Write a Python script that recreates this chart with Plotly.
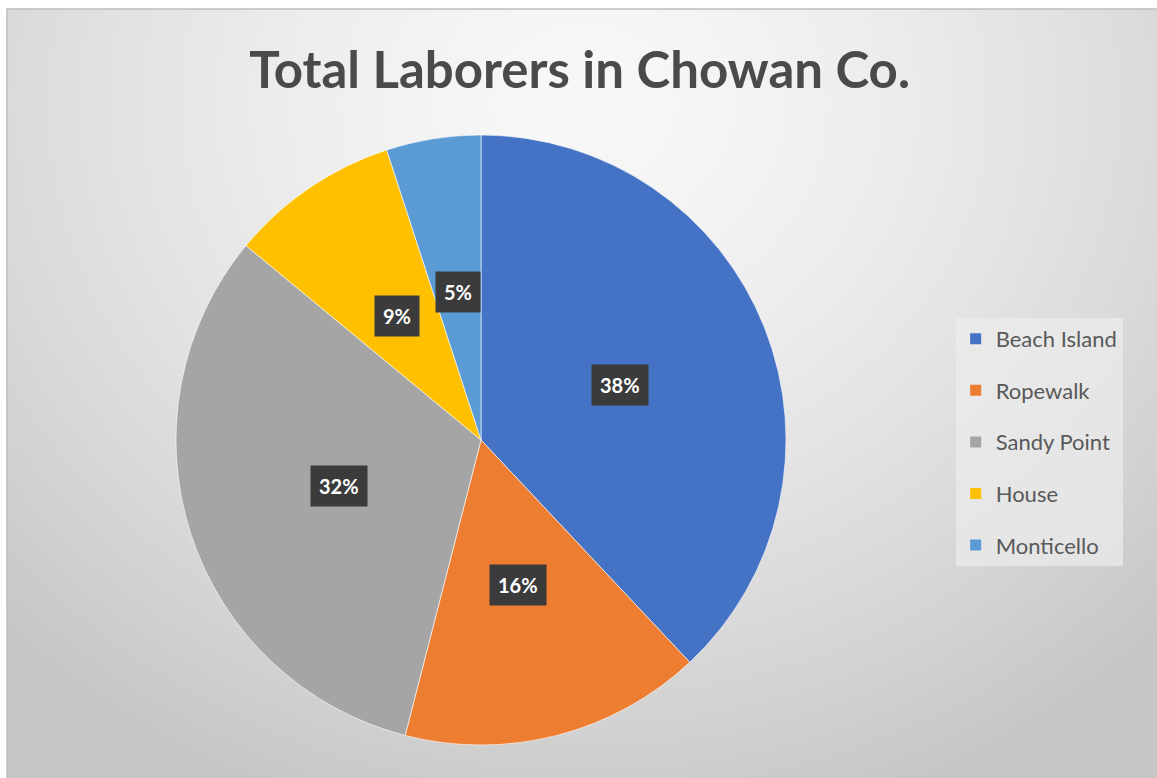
import base64, struct, zlib, math
import numpy as np
import plotly.graph_objects as go

# ---- data ----
labels = ["Beach Island", "Ropewalk", "Sandy Point", "House", "Monticello"]
values = [38, 16, 32, 9, 5]
colors = ["#4472C4", "#ED7D31", "#A5A5A5", "#FFC000", "#5B9BD5"]
title_text = "Total Laborers in Chowan Co."

W, H = 1157, 778

# ---- background gradient image (style only) ----
def png_uri(arr):
    h, w, _ = arr.shape
    raw = b"".join(b"\x00" + arr[i].tobytes() for i in range(h))
    def chunk(t, d):
        c = struct.pack(">I", len(d)) + t + d
        return c + struct.pack(">I", zlib.crc32(t + d) & 0xffffffff)
    png = b"\x89PNG\r\n\x1a\n" + chunk(b"IHDR", struct.pack(">IIBBBBB", w, h, 8, 2, 0, 0, 0)) \
        + chunk(b"IDAT", zlib.compress(raw, 9)) + chunk(b"IEND", b"")
    return "data:image/png;base64," + base64.b64encode(png).decode()

gw, gh = 288, 192
yy, xx = np.mgrid[0:gh, 0:gw]
dx = (xx / gw - 0.5) / 0.7
dy = (yy / gh - 0.12) / 0.95
d = np.clip(np.sqrt(dx**2 + dy**2), 0, 1.4)
val = np.clip(248 - 48 * d**1.5, 198, 250).astype(np.uint8)
bg = np.stack([val, val, val], axis=-1)
bg_uri = png_uri(bg)

x0p, y0p = 7 / W, 9 / H

# ---- pie geometry (domain) ----
cx_px, cy_px, R_px = 481, 440, 305
dom_x = [(cx_px - R_px) / W, (cx_px + R_px) / W]
dom_y = [1 - (cy_px + R_px) / H, 1 - (cy_px - R_px) / H]

fig = go.Figure()
fig.add_trace(go.Pie(
    labels=labels, values=values, sort=False, direction="clockwise", rotation=0,
    marker=dict(colors=colors, line=dict(color="rgba(255,255,255,0.6)", width=1)),
    textinfo="none", hoverinfo="label+percent", showlegend=False,
    domain=dict(x=dom_x, y=dom_y),
))

# legend entries
for lab, col in zip(labels, colors):
    fig.add_trace(go.Scatter(
        x=[None], y=[None], mode="markers", name=lab, legendgroup=lab,
        marker=dict(symbol="square", size=11, color=col),
    ))

# percentage labels in dark boxes
total = sum(values)
cum = 0
for v in values:
    mid = (cum + v / 2) / total * 2 * math.pi
    cum += v
    r = 0.49 * R_px
    px = cx_px + r * math.sin(mid)
    py = cy_px - r * math.cos(mid)
    fig.add_annotation(
        x=px / W, y=1 - py / H, xref="paper", yref="paper",
        xanchor="center", yanchor="middle",
        text=f"<b>{round(100 * v / total)}%</b>", showarrow=False,
        font=dict(family="Lato", size=20, color="white"),
        bgcolor="#3b3b3b", borderpad=8,
    )

fig.update_layout(
    width=W, height=H, margin=dict(l=0, r=0, t=0, b=0),
    paper_bgcolor="white", plot_bgcolor="rgba(0,0,0,0)",
    xaxis=dict(visible=False), yaxis=dict(visible=False),
    title=dict(text=f"<b>{title_text}</b>", x=0.501, xanchor="center",
               y=1 - 70 / H, yanchor="middle",
               font=dict(family="Lato", size=51, color="#4a4a4a")),
    legend=dict(x=0.826, y=0.432, xanchor="left", yanchor="middle",
                bgcolor="rgba(236,236,236,0.7)", tracegroupgap=20,
                font=dict(family="Lato", size=22, color="#595959"),
                itemwidth=30),
    images=[dict(source=bg_uri, xref="paper", yref="paper", x=x0p, y=1 - y0p,
                 sizex=1 - x0p, sizey=1 - y0p, sizing="stretch", layer="below",
                 xanchor="left", yanchor="top")],
    shapes=[dict(type="rect", xref="paper", yref="paper", x0=x0p, x1=1.002,
                 y0=-0.002, y1=1 - y0p, line=dict(color="#bdbdbd", width=1.5),
                 layer="below")],
)

fig.write_html("out.html")
